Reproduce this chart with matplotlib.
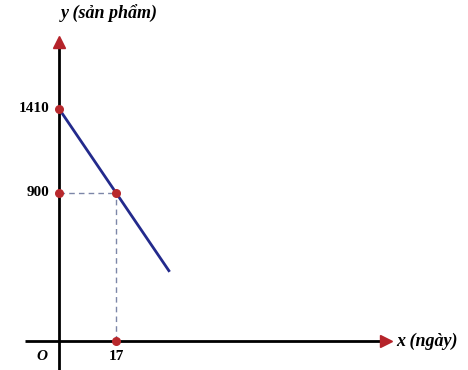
import matplotlib.pyplot as plt

# product count y drops linearly with days x
x_line = [0, 33]
y_start = 1410
slope = -30
y_line = [y_start + slope * v for v in x_line]

point_x = 17
point_y = 900
x_ticks = [17]
y_ticks = [1410, 900]

AXIS_RED = "#b5232a"
DOT_RED = "#b8282c"
LINE_BLUE = "#232a8c"
DASH = "#7c86a8"


def main():
    fig = plt.figure(figsize=(4.68, 3.70), dpi=100)
    ax = fig.add_axes([0, 0, 1, 1])
    ax.set_xlim(-17.6, 122)
    ax.set_ylim(-176, 2070)
    ax.axis("off")

    # axes with red arrow heads
    ax.plot([-10, 97], [0, 0], color="black", lw=2, solid_capstyle="butt")
    ax.plot([0, 0], [-200, 1810], color="black", lw=2, solid_capstyle="butt")
    ax.plot(97.5, 0, marker=">", ms=8, color=AXIS_RED, mec=AXIS_RED)
    ax.plot(0, 1815, marker="^", ms=8, color=AXIS_RED, mec=AXIS_RED)

    # guide lines to the marked point
    ax.plot([0, point_x], [point_y, point_y], ls=(0, (4, 3)), color=DASH, lw=1)
    ax.plot([point_x, point_x], [0, point_y], ls=(0, (4, 3)), color=DASH, lw=1)

    ax.plot(x_line, y_line, color=LINE_BLUE, lw=2, solid_capstyle="butt")

    dots_x = [0, 0, point_x, point_x]
    dots_y = [y_start, point_y, point_y, 0]
    ax.scatter(dots_x, dots_y, s=30, color=DOT_RED, zorder=5)

    font = dict(family="Liberation Serif", fontweight="bold", fontsize=11)
    for t in y_ticks:
        ax.text(-2.8, t, str(t), ha="right", va="center", **font)
    for t in x_ticks:
        ax.text(t, -55, str(t), ha="center", va="top", **font)
    ax.text(-3.5, -55, "O", ha="right", va="top", style="italic", **font)

    label_font = dict(font, fontsize=13)
    ax.text(15, 1985, "y (sản phẩm)", ha="center", va="center",
            style="italic", **label_font)
    ax.text(100.5, 0, "x (ngày)", ha="left", va="center", style="italic",
            **label_font)

    fig.savefig("out.png", dpi=100)


if __name__ == "__main__":
    main()
